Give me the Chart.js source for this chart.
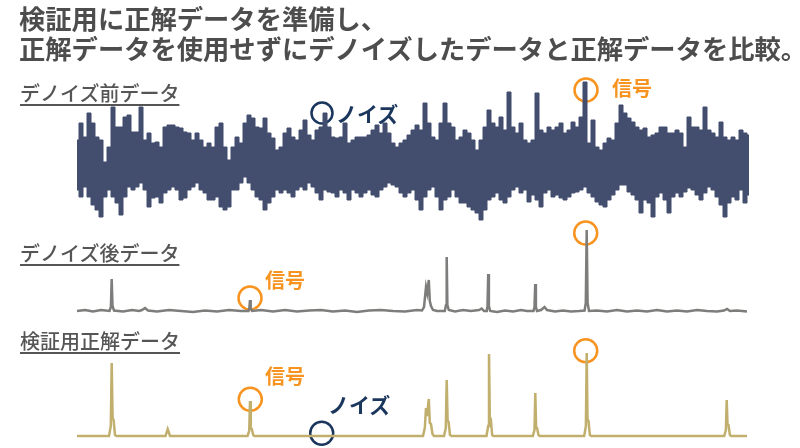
<!DOCTYPE html>
<html lang="ja">
<head>
<meta charset="utf-8">
<script src="https://cdn.jsdelivr.net/npm/chart.js@4.4.0/dist/chart.umd.min.js"></script>
<style>
body { margin: 0; background: #fff; }
#wrap { position: relative; width: 800px; height: 448px; overflow: hidden; font-family: "Noto Sans CJK JP", sans-serif; }
#chart { position: absolute; left: 0; top: 0; }
.t { position: absolute; white-space: nowrap; line-height: 1; }
.title { left: 19px; font-size: 26.3px; font-weight: 700; color: #4d4d4d; }
.sec { left: 20px; font-size: 20px; font-weight: 500; color: #555; text-decoration: underline; text-underline-offset: 3px; text-decoration-thickness: 2px; }
.sig { color: #f7931e; font-size: 20px; font-weight: 700; }
.noi { color: #1b365d; font-size: 21px; font-weight: 700; }
</style>
</head>
<body>
<div id="wrap">
  <canvas id="chart" width="800" height="448"></canvas>
  <div class="t title" style="top:5px">検証用に正解データを準備し、</div>
  <div class="t title" style="top:35px">正解データを使用せずにデノイズしたデータと正解データを比較。</div>
  <div class="t sec" style="top:83px">デノイズ前データ</div>
  <div class="t sec" style="top:243px">デノイズ後データ</div>
  <div class="t sec" style="top:331px">検証用正解データ</div>
  <div class="t sig" style="left:612px;top:78px">信号</div>
  <div class="t noi" style="left:336px;top:103px">ノイズ</div>
  <div class="t sig" style="left:265px;top:270px">信号</div>
  <div class="t sig" style="left:265px;top:366px">信号</div>
  <div class="t noi" style="left:328px;top:394px">ノイズ</div>
</div>
<script>
// デノイズ前 (ノイズ入り): 波形の上側・下側の包絡
const noisyStep = 4;
const noisyUpper = [
  20,37,23,47,37,23,20,-2,13,53, 33,33,43,45,28,28,53,20,27,17,
  18,13,33,35,35,33,32,28,27,20, 27,20,13,17,13,33,37,13,0,13,
  23,17,37,45,42,33,32,42,27,22, 10,13,27,32,23,20,
  30,40,25,20,30,33,47,33,23,22, 23,37,17,20,23,23,23,25,30,35,
  27,37,27,17,13,17,20,25,30,35, 30,57,37,23,20,37,57,37,33,20,
  23,30,27,20,10,20,33,50,37,33, 43,30,68,33,27,37,
  20,17,20,67,30,27,33,30,33,37, 27,30,38,33,43,78,17,40,13,10,
  17,22,20,37,55,47,42,38,33,30, 32,23,25,27,33,33,27,27,30,27,
  13,43,33,33,30,53,30,27,23,38, 23,20,23,20,30,27,25
];
const noisyLower = [
  -30,-37,-27,-37,-45,-50,-57,-37,-30,-37, -43,-55,-37,-27,-30,-27,-23,-30,-47,-38,
  -37,-43,-33,-30,-27,-30,-40,-38,-30,-27, -23,-30,-33,-40,-40,-37,-47,-50,-47,-30,
  -30,-23,-17,-23,-30,-37,-40,-50,-43,-37, -30,-33,-30,-33,-37,-30,
  -27,-30,-23,-27,-33,-40,-30,-32,-33,-37, -30,-33,-40,-30,-33,-37,-33,-30,-35,-37,
  -30,-27,-23,-25,-27,-33,-37,-33,-30,-40, -50,-37,-30,-27,-37,-50,-40,-37,-30,-37,
  -43,-43,-47,-50,-53,-60,-50,-40,-37,-33, -40,-43,-37,-30,-27,-33,
  -30,-42,-35,-40,-47,-33,-30,-37,-35,-38, -40,-37,-33,-32,-30,-27,-33,-37,-42,-45,
  -47,-40,-35,-30,-25,-25,-32,-35,-40,-53, -40,-43,-57,-37,-33,-40,-53,-37,-33,-37,
  -32,-28,-30,-35,-40,-33,-27,-30,-37,-45, -57,-43,-37,-40,-30,-43,-35
];

// デノイズ後 [x, 値]
const denoisedPts = [
  [0,0],[8,1],[16,-0.5],[24,1],[32.5,0],[33.9,4],[34.7,32],[35.5,5],[37,0.5],[46,-0.5],
  [55,1],[62,0],[65,1],[68,3],[71,0.5],[80,-0.5],[92,1],[104,0],[116,-1],[128,0.5],
  [140,-0.5],[152,1],[164,0],[171.5,0],[172.3,3],[173,11],[173.7,3],[175,0],[184,1],[196,-0.5],
  [208,1],[220,-0.5],[232,0.5],[244,1],[256,-0.5],[268,0.5],[280,-1],[292,0.5],[304,1],[316,0],
  [328,-0.5],[340,1],[345,0.5],[347,4],[349,24],[350.2,18],[351.8,31],[352.8,10],[354,5],[356,1],
  [360,0],[367.8,0],[369,6],[369.7,54],[370.4,6],[371.8,1],[378,-0.5],[386,1],[394,0],[402,1],
  [404.7,2.5],[407,0],[409.8,0],[410.5,5],[411.2,37],[411.9,5],[413.2,0],[420,-1],[428,0.5],[436,-0.5],
  [444,1],[450,0],[456.5,0],[457.5,4],[458.2,27],[458.9,4],[460,0],[464,1],[467.5,4],[470,1],
  [478,-0.5],[486,0.5],[494,-0.5],[502,0],[507.6,0.5],[508.8,8],[509.7,81],[510.6,8],[512,0],[520,0.5],
  [530,-0.5],[540,1],[550,-0.5],[560,0.5],[570,-0.5],[580,1],[590,-0.5],[600,0.5],[610,-0.5],[620,1],
  [630,0],[640,-0.5],[647,0.5],[650,2],[653,0],[660,0.5],[670,-0.5]
];

// 検証用正解 [x, 値]
const truthPts = [
  [0,0],
  [32,0],[33.8,10],[34.7,73],[35.6,18],[36.6,16],[38,1],[39.5,0],
  [88.5,0],[90.7,7],[93,0],
  [170.5,0],[172.2,5],[173,35],[173.8,8],[174.8,7],[176.2,1],[177.5,0],
  [346,0],[347.8,8],[349,28],[350,20],[351.8,37],[352.8,13],[354,12],[355.5,2],[357,0],
  [367,0],[368.8,8],[369.7,56],[370.6,16],[371.6,14],[373,1],[374.5,0],
  [409.5,0],[411.2,10],[412,82],[412.8,19],[413.8,17],[415.2,1],[416.5,0],
  [455.8,0],[457.5,6],[458.3,43],[459.1,9],[460.1,8],[461.5,1],[462.8,0],
  [507.2,0],[508.9,10],[509.7,83],[510.5,17],[511.5,15],[512.9,1],[514.2,0],
  [647.2,0],[648.9,6],[649.7,36],[650.5,12],[651.5,11],[652.9,1],[654.2,0],
  [670,0]
];

// 注目箇所の丸 [x, 値]
const noisySignalMark = [[509, 70]];
const noisyNoiseMark = [[245, 47]];
const denoisedSignalMarks = [[173, 13], [508.7, 78]];
const truthSignalMarks = [[173.3, 36.7], [508.7, 85.3]];
const truthNoiseMark = [[244.7, 2.7]];

const toXY = pts => pts.map(p => ({ x: p[0], y: p[1] }));

function circleSet(pts, color, r, axis) {
    return {
        data: toXY(pts), yAxisID: axis, showLine: false, clip: false,
        pointStyle: 'circle', pointRadius: r, pointBorderWidth: 2.5,
        pointBorderColor: color, pointBackgroundColor: 'rgba(0,0,0,0)',
        borderColor: color
    };
}

const ORANGE = '#f7931e';
const NAVY = '#1b365d';
const NOISY = '#434d6e';

new Chart(document.getElementById('chart'), {
    type: 'line',
    data: {
        datasets: [
            {
                data: noisyUpper.map((v, i) => ({ x: i * noisyStep, y: v })),
                yAxisID: 'yNoisy', borderColor: NOISY, backgroundColor: NOISY,
                borderWidth: 1, stepped: 'middle', fill: '+1', pointRadius: 0
            },
            {
                data: noisyLower.map((v, i) => ({ x: i * noisyStep, y: v })),
                yAxisID: 'yNoisy', borderColor: NOISY, borderWidth: 1,
                stepped: 'middle', fill: false, pointRadius: 0
            },
            {
                data: toXY(denoisedPts), yAxisID: 'yDenoised',
                borderColor: '#7d7d7b', borderWidth: 2.5, pointRadius: 0, tension: 0
            },
            {
                data: toXY(truthPts), yAxisID: 'yTruth',
                borderColor: '#c1af6d', borderWidth: 2.5, pointRadius: 0, tension: 0
            },
            circleSet(noisySignalMark, ORANGE, 11.5, 'yNoisy'),
            circleSet(noisyNoiseMark, NAVY, 10.5, 'yNoisy'),
            circleSet(denoisedSignalMarks, ORANGE, 11.5, 'yDenoised'),
            circleSet(truthSignalMarks, ORANGE, 11.5, 'yTruth'),
            circleSet(truthNoiseMark, NAVY, 11.5, 'yTruth')
        ]
    },
    options: {
        responsive: false,
        animation: false,
        layout: { padding: 0, autoPadding: false },
        plugins: { legend: { display: false }, tooltip: { enabled: false } },
        scales: {
            x: { type: 'linear', min: -77, max: 723, display: false },
            yNoisy: { min: -288, max: 160, display: false },
            yDenoised: { min: -137, max: 311, display: false },
            yTruth: { min: -12, max: 436, display: false }
        }
    }
});
</script>
</body>
</html>
